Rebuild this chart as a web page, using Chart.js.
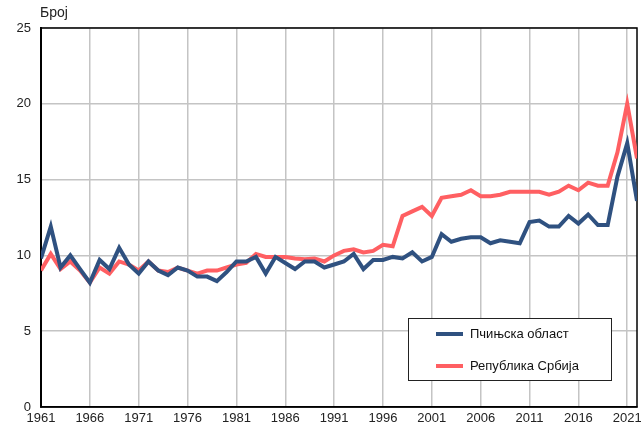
<!DOCTYPE html>
<html>
<head>
<meta charset="utf-8">
<script src="https://cdn.jsdelivr.net/npm/chart.js@4/dist/chart.umd.min.js"></script>
<style>
  html, body { margin: 0; padding: 0; background: #fff; }
  #wrap { width: 641px; height: 430px; }
</style>
</head>
<body>
<div id="wrap"><canvas id="chart" width="641" height="430"></canvas></div>
<script>
const years = [];
for (let y = 1961; y <= 2022; y++) years.push(y);

const pcinjska = [
  9.8, 11.9, 9.2, 10.0, 9.1, 8.2, 9.7, 9.1, 10.5, 9.4,
  8.8, 9.6, 9.0, 8.7, 9.2, 9.0, 8.6, 8.6, 8.3, 8.9,
  9.6, 9.6, 9.9, 8.8, 9.9, 9.5, 9.1, 9.6, 9.6, 9.2,
  9.4, 9.6, 10.1, 9.1, 9.7, 9.7, 9.9, 9.8, 10.2, 9.6,
  9.9, 11.4, 10.9, 11.1, 11.2, 11.2, 10.8, 11.0, 10.9, 10.8,
  12.2, 12.3, 11.9, 11.9, 12.6, 12.1, 12.7, 12.0, 12.0, 15.2,
  17.4, 13.6
];

const srbija = [
  9.0, 10.1, 9.1, 9.6, 9.0, 8.2, 9.2, 8.8, 9.6, 9.4,
  9.0, 9.6, 9.0, 8.9, 9.2, 9.0, 8.8, 9.0, 9.0, 9.2,
  9.4, 9.5, 10.1, 9.9, 9.9, 9.9, 9.8, 9.75, 9.8, 9.6,
  10.0, 10.3, 10.4, 10.2, 10.3, 10.7, 10.6, 12.6, 12.9, 13.2,
  12.6, 13.8, 13.9, 14.0, 14.3, 13.9, 13.9, 14.0, 14.2, 14.2,
  14.2, 14.2, 14.0, 14.2, 14.6, 14.3, 14.8, 14.6, 14.6, 16.8,
  20.0, 16.4
];

const xTicks = [1961, 1966, 1971, 1976, 1981, 1986, 1991, 1996, 2001, 2006, 2011, 2016, 2021];
const yTicks = [0, 5, 10, 15, 20, 25];

const FONT = 'Liberation Sans, Arial, sans-serif';

// frame around the plot + y label "Број"
const framePlugin = {
  id: 'frame',
  beforeDatasetsDraw(chart) {
    const { ctx, chartArea: a } = chart;
    ctx.save();
    ctx.strokeStyle = '#000';
    ctx.lineWidth = 1.5;
    ctx.strokeRect(a.left, a.top, a.right - a.left, a.bottom - a.top);
    ctx.restore();
  },
  afterDraw(chart) {
    const { ctx, chartArea: a } = chart;
    ctx.save();
    ctx.font = '14px ' + FONT;
    ctx.fillStyle = '#222';
    ctx.textBaseline = 'middle';
    ctx.fillText('Број', a.left - 1, 13);
    ctx.restore();
  }
};

// boxed legend inside the plot
const legendBox = {
  id: 'legendBox',
  afterDraw(chart) {
    const { ctx } = chart;
    const x = 408, y = 318, w = 203, h = 62;
    ctx.save();
    ctx.fillStyle = '#fff';
    ctx.fillRect(x, y, w, h);
    ctx.strokeStyle = '#222';
    ctx.lineWidth = 1;
    ctx.strokeRect(x + 0.5, y + 0.5, w, h);
    ctx.font = '13px ' + FONT;
    ctx.textBaseline = 'middle';
    chart.data.datasets.forEach((ds, i) => {
      const ly = y + 16 + i * 32;
      ctx.strokeStyle = ds.borderColor;
      ctx.lineWidth = 4;
      ctx.beginPath();
      ctx.moveTo(436, ly);
      ctx.lineTo(463, ly);
      ctx.stroke();
      ctx.fillStyle = '#111';
      ctx.fillText(ds.label, 470, ly);
    });
    ctx.restore();
  }
};

new Chart(document.getElementById('chart'), {
  type: 'line',
  data: {
    datasets: [
      {
        label: 'Пчињска област',
        data: years.map((y, i) => ({ x: y, y: pcinjska[i] })),
        borderColor: '#2f5180',
        borderWidth: 4,
        pointRadius: 0,
        tension: 0
      },
      {
        label: 'Република Србија',
        data: years.map((y, i) => ({ x: y, y: srbija[i] })),
        borderColor: '#ff5f62',
        borderWidth: 4,
        pointRadius: 0,
        tension: 0
      }
    ]
  },
  options: {
    responsive: false,
    animation: false,
    layout: { padding: { top: 28, right: 4, left: 0, bottom: 0 } },
    plugins: {
      legend: { display: false },
      tooltip: { enabled: false }
    },
    scales: {
      x: {
        type: 'linear',
        min: 1961,
        max: 2022,
        afterBuildTicks(scale) {
          scale.ticks = xTicks.map(v => ({ value: v }));
        },
        afterFit(scale) {
          scale.height = 23;
          scale.paddingRight = 0;
          scale.paddingLeft = 0;
        },
        ticks: {
          autoSkip: false,
          maxRotation: 0,
          padding: 4,
          color: '#222',
          font: { family: FONT, size: 13 },
          callback: v => String(v)
        },
        grid: { color: '#c4c4c4', lineWidth: 1.5, drawTicks: false },
        border: { color: '#000', width: 1.5 }
      },
      y: {
        min: 0,
        max: 25,
        afterBuildTicks(scale) {
          scale.ticks = yTicks.map(v => ({ value: v }));
        },
        afterFit(scale) { scale.width = 41; },
        ticks: {
          padding: 10,
          color: '#222',
          font: { family: FONT, size: 13 }
        },
        grid: { color: '#c4c4c4', lineWidth: 1.5, drawTicks: false },
        border: { color: '#000', width: 2 }
      }
    }
  },
  plugins: [framePlugin, legendBox]
});
</script>
</body>
</html>
